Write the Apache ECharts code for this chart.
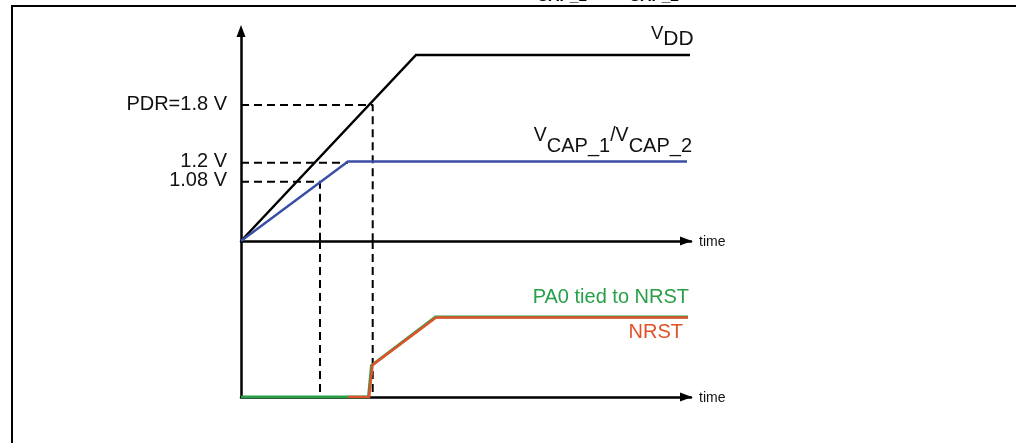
<!DOCTYPE html>
<html>
<head>
<meta charset="utf-8">
<script src="https://cdn.jsdelivr.net/npm/echarts@6/dist/echarts.min.js"></script>
<style>
html,body{margin:0;padding:0;background:#fff;}
#chart{width:1016px;height:443px;}
</style>
</head>
<body>
<div id="chart"></div>
<script>
// ---- data (schematic units: time units, level units) ----
const vddPoints   = [[0,0],[17.5,18.6],[44.9,18.6]];
const vcapPoints  = [[0,0],[10.7,7.95],[44.6,7.95]];
const pa0Points   = [[0,0],[12.75,0],[13.05,3.15],[19.45,8.0],[44.7,8.0]];
const nrstPoints  = [[10.7,0],[12.8,0],[13.15,3.2],[19.5,7.95],[44.7,7.95]];
const levelTickValues = [13.6, 7.83, 5.93];
const levelTickLabels = ['PDR=1.8 V', '1.2 V', '1.08 V'];
const pdrCrossTime = 13.17;
const vcapKneeTime = 10.7;
const bor108Time = 7.9;
const upperMax = 21;
const lowerMax = 15.6;
const timeMax = 45;

const FONT = '"Liberation Sans", Arial, sans-serif';
const BLUE = '#3a4ea3';
const GREEN = '#27a047';
const ORANGE = '#e2522a';
const BLACK = '#000000';

const dashStyle = {color: BLACK, width: 2, type: [8, 5]};

function dashed(grid, pts) {
  return {type: 'line', xAxisIndex: grid, yAxisIndex: grid, data: pts, symbol: 'none',
          lineStyle: dashStyle, silent: true, z: 1, animation: false};
}
function solid(grid, pts, color, width, z) {
  return {type: 'line', xAxisIndex: grid, yAxisIndex: grid, data: pts, symbol: 'none',
          lineStyle: {color: color, width: width, join: 'miter'}, silent: true, z: z, animation: false};
}

// measure helper for sub/super-script labels
const ctx = document.createElement('canvas').getContext('2d');
function measure(text, size, weight) {
  ctx.font = (weight || 'normal') + ' ' + size + 'px ' + FONT;
  return ctx.measureText(text).width;
}
// parts: [text, fontSize, dy]; placed left-to-right from x, or right-aligned to x
function scriptLabel(x, y, parts, color, alignRight) {
  let total = 0;
  parts.forEach(p => total += measure(p[0], p[1]));
  let cx = alignRight ? x - total : x;
  const els = [];
  parts.forEach(p => {
    els.push({type: 'text', x: cx, y: y + p[2], silent: true,
      style: {text: p[0], fontSize: p[1], fontFamily: FONT, fill: color,
              textAlign: 'left', textVerticalAlign: 'middle'}});
    cx += measure(p[0], p[1]);
  });
  return els;
}
function plainText(x, y, text, size, color, align, weight, vAlign) {
  return {type: 'text', x: x, y: y, silent: true,
    style: {text: text, fontSize: size, fontFamily: FONT, fill: color, fontWeight: weight || 'normal',
            textAlign: align || 'left', textVerticalAlign: vAlign || 'middle'}};
}

const chart = echarts.init(document.getElementById('chart'), null, {renderer: 'canvas'});

const axisLineBase = {show: true, lineStyle: {color: BLACK, width: 2.5}};

const graphics = [].concat(
  [
    {type: 'line', silent: true, shape: {x1: 11, y1: 6, x2: 1016, y2: 6}, style: {stroke: BLACK, lineWidth: 2}},
    {type: 'line', silent: true, shape: {x1: 12, y1: 6, x2: 12, y2: 443}, style: {stroke: BLACK, lineWidth: 2}},
    plainText(537, 5, 'CAP_1', 15.5, BLACK, 'left', 'bold', 'bottom'),
    plainText(629, 5, 'CAP_2', 15.5, BLACK, 'left', 'bold', 'bottom'),
    plainText(699, 242, 'time', 14, '#111', 'left'),
    plainText(699, 398, 'time', 14, '#111', 'left'),
    plainText(689, 297, 'PA0 tied to NRST', 20, GREEN, 'right'),
    plainText(683, 332, 'NRST', 20, ORANGE, 'right')
  ],
  scriptLabel(651, 34, [['V', 18.5, 0], ['DD', 21, 5]], '#111', false),
  scriptLabel(692, 135.5, [['V', 19.5, 0], ['CAP_1', 20, 11], ['/', 19.5, 0], ['V', 19.5, 0], ['CAP_2', 20, 11]], '#111', true)
);

const arrowEnd = {symbol: ['none', 'triangle'], symbolSize: [9, 12], symbolOffset: [0, -5]};

const option = {
  animation: false,
  backgroundColor: '#fff',
  grid: [
    {left: 241, top: 31, width: 450, height: 210, containLabel: false},
    {left: 241, top: 241, width: 450, height: 156, containLabel: false}
  ],
  xAxis: [
    {gridIndex: 0, type: 'value', min: 0, max: timeMax,
     axisLine: Object.assign({}, axisLineBase, arrowEnd),
     axisTick: {show: false}, axisLabel: {show: false}, splitLine: {show: false}},
    {gridIndex: 1, type: 'value', min: 0, max: timeMax,
     axisLine: Object.assign({}, axisLineBase, arrowEnd),
     axisTick: {show: false}, axisLabel: {show: false}, splitLine: {show: false}}
  ],
  yAxis: [
    {gridIndex: 0, type: 'value', min: 0, max: upperMax,
     axisLine: Object.assign({}, axisLineBase, {symbol: ['none', 'triangle'], symbolSize: [9, 12], symbolOffset: [0, 0]}),
     axisTick: {show: false}, splitLine: {show: false}, axisLabel: {show: false}},
    {gridIndex: 1, type: 'value', min: 0, max: lowerMax,
     axisLine: axisLineBase, axisTick: {show: false}, axisLabel: {show: false}, splitLine: {show: false}}
  ],
  series: [
    dashed(0, [[0, levelTickValues[0]], [pdrCrossTime, levelTickValues[0]], [pdrCrossTime, 0]]),
    dashed(1, [[pdrCrossTime, lowerMax], [pdrCrossTime, 0]]),
    dashed(0, [[0, levelTickValues[1]], [vcapKneeTime, levelTickValues[1]]]),
    dashed(0, [[0, levelTickValues[2]], [bor108Time, levelTickValues[2]], [bor108Time, 0]]),
    dashed(1, [[bor108Time, lowerMax], [bor108Time, 0]]),
    solid(0, vddPoints, BLACK, 2.5, 3),
    solid(0, vcapPoints, BLUE, 2.4, 4),
    solid(1, pa0Points, GREEN, 3, 3),
    solid(1, nrstPoints, ORANGE, 2.6, 4)
  ],
  graphic: graphics
};
chart.setOption(option);

// level tick labels placed through the upper y axis scale
const tickLabelEls = levelTickValues.map((v, i) => {
  const p = chart.convertToPixel({gridIndex: 0}, [0, v]);
  return plainText(p[0] - 14, p[1] - 1, levelTickLabels[i], 20, '#111', 'right');
});
chart.setOption({graphic: graphics.concat(tickLabelEls)});
</script>
</body>
</html>
